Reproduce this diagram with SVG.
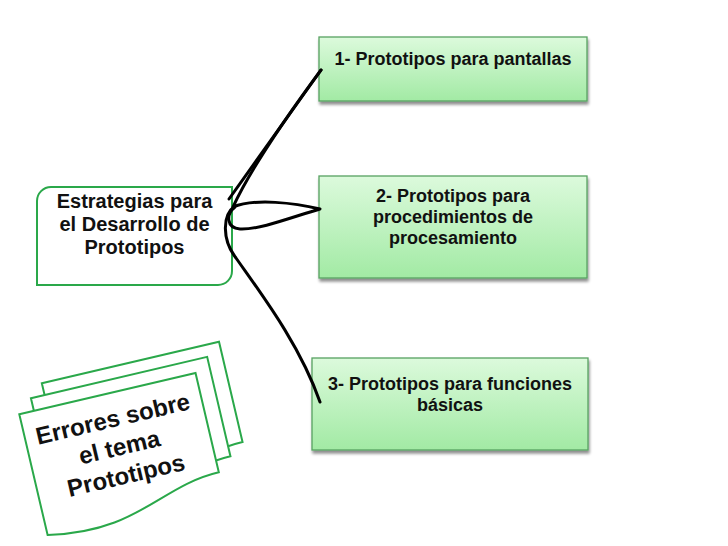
<svg xmlns="http://www.w3.org/2000/svg" width="728" height="546" viewBox="0 0 728 546">
<defs>
<linearGradient id="gfill" x1="0" y1="0" x2="0" y2="1">
<stop offset="0" stop-color="#dcfadc"/>
<stop offset="1" stop-color="#a2eaa4"/>
</linearGradient>
<filter id="sh" x="-5%" y="-5%" width="115%" height="125%">
<feGaussianBlur in="SourceAlpha" stdDeviation="1.5"/>
<feOffset dx="1" dy="2.5" result="b"/>
<feComponentTransfer><feFuncA type="linear" slope="0.45"/></feComponentTransfer>
<feMerge><feMergeNode/><feMergeNode in="SourceGraphic"/></feMerge>
</filter>
</defs>
<style>
.box{fill:url(#gfill);stroke:#58a262;stroke-width:1.3;filter:url(#sh)}
.t{font-family:"Liberation Sans",Arial,sans-serif;font-weight:bold;fill:#111;text-anchor:middle}
.t18{font-size:18px}
.t20{font-size:20px}
.t24{font-size:24px}
.gb{fill:#fff;stroke:#2aa84a;stroke-width:2}
.con{fill:none;stroke:#000;stroke-width:3;stroke-linecap:round;stroke-linejoin:round}
</style>
<rect width="728" height="546" fill="#fff"/>

<g id="root">
<path class="gb" d="M51,187 H232 V271 A14,14 0 0 1 218,285 H37 V201 A14,14 0 0 1 51,187 Z"/>
<text class="t t20" x="134.5" y="208">Estrategias para</text>
<text class="t t20" x="134.5" y="231">el Desarrollo de</text>
<text class="t t20" x="134.5" y="254">Prototipos</text>
</g>

<g id="n1">
<rect class="box" x="319" y="37" width="268" height="64"/>
<text class="t t18" x="453" y="65">1- Prototipos para pantallas</text>
</g>

<g id="n2">
<rect class="box" x="319" y="176" width="268" height="102"/>
<text class="t t18" x="453" y="202">2- Prototipos para</text>
<text class="t t18" x="453" y="223">procedimientos de</text>
<text class="t t18" x="453" y="244">procesamiento</text>
</g>

<g id="n3">
<rect class="box" x="312" y="358" width="276" height="92"/>
<text class="t t18" x="450" y="390">3- Prototipos para funciones</text>
<text class="t t18" x="450" y="411">básicas</text>
</g>

<g id="connectors">
<path class="con" d="M229,199 L321,70"/>
<path class="con" d="M321,70 C290,112 250,170 233,207 C255,198 295,203 320,209 C295,216 260,230 240,229 C226,228 226,214 235,207"/>
<path class="con" d="M235,206 C222,215 222,240 236,258 C262,295 300,345 320,402"/>
</g>

<g id="errores" transform="translate(19.3,414.3) rotate(-13.2)">
<path class="gb" d="M29,-25 H211 V78 C150,78 120,118 29,99 Z"/>
<path class="gb" d="M15,-13 H196 V89 C135,89 105,128 15,111 Z"/>
<path class="gb" d="M0,0 H181 V102 C120,102 90,142 0,124 Z"/>
<text class="t t24" x="90" y="34">Errores sobre</text>
<text class="t t24" x="90" y="63">el tema</text>
<text class="t t24" x="90" y="92">Prototipos</text>
</g>
</svg>
